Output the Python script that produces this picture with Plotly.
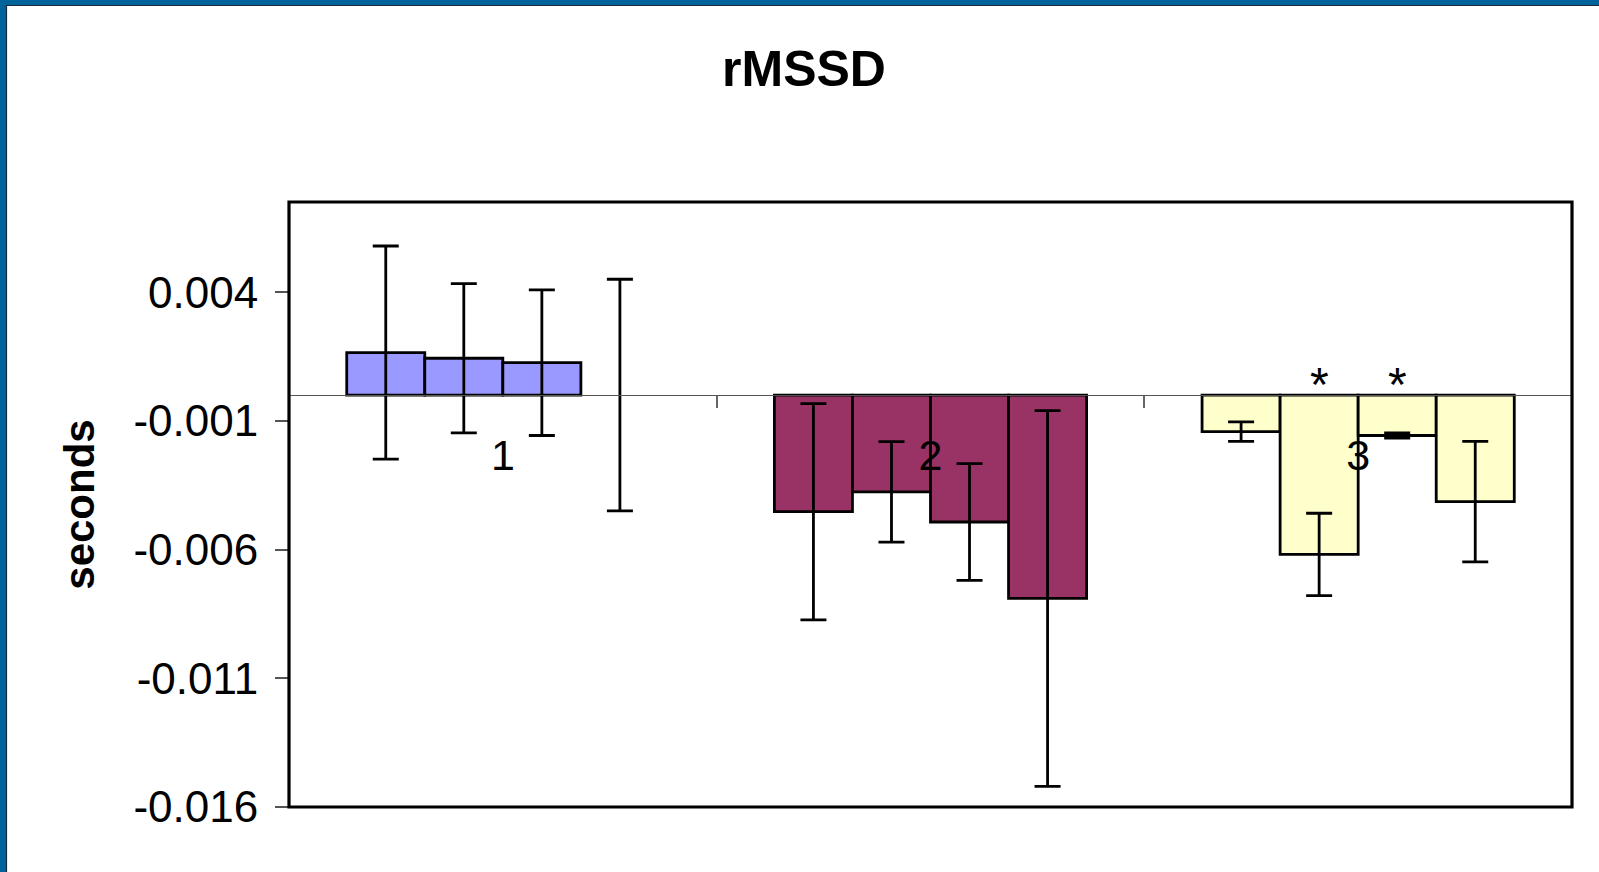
import plotly.graph_objects as go

# Category labels and y tick labels
categories = ["1", "2", "3"]
tick_values = [0.004, -0.001, -0.006, -0.011, -0.016]
tick_labels = ["0.004", "-0.001", "-0.006", "-0.011", "-0.016"]

# Mean change per series (one value per group)
series_1 = [0.00165, -0.00453, -0.00142]
series_2 = [0.00143, -0.00376, -0.00619]
series_3 = [0.00126, -0.00493, -0.00157]
series_4 = [0.0, -0.00790, -0.00414]

# Error bar half-lengths
err_1 = [0.00414, 0.00420, 0.00038]
err_2 = [0.00290, 0.00195, 0.00160]
err_3 = [0.00283, 0.00227, 0.00010]
err_4 = [0.00450, 0.00730, 0.00234]

# Significance marks for group "3"
stars_group3 = ["", "*", "*", ""]

group_colors = ["#9999FF", "#993366", "#FFFFCC"]

FONT = "Liberation Sans, Arial, sans-serif"
W, H = 1599, 872
M_L, M_R, M_T, M_B = 289, 27, 202, 65
Y_MIN, Y_MAX = -0.016, 0.0075
BARGAP = 0.27

series = [series_1, series_2, series_3, series_4]
errors = [err_1, err_2, err_3, err_4]

fig = go.Figure()
for vals, errs in zip(series, errors):
    # zero-height bars get no outline so only their error bar shows
    outline = [2.8 if v != 0 else 0 for v in vals]
    fig.add_trace(go.Bar(
        x=categories,
        y=vals,
        marker=dict(color=group_colors, line=dict(color="black", width=outline)),
        error_y=dict(type="data", array=errs, visible=True,
                     color="black", thickness=2.8, width=13),
        showlegend=False,
    ))

plot_w = W - M_L - M_R
plot_h = H - M_T - M_B
zero_frac = (0 - Y_MIN) / (Y_MAX - Y_MIN)

# Significance asterisks above bars of group "3"
n_series = len(series)
bar_w = (1 - BARGAP) / n_series
cat_px = plot_w / len(categories)
for i, s in enumerate(stars_group3):
    if s:
        offset = (-(1 - BARGAP) / 2 + bar_w * (i + 0.5)) * cat_px
        fig.add_annotation(x=2, y=0, xref="x", yref="y",
                           text=s, showarrow=False, xshift=offset,
                           yanchor="bottom", yshift=-18,
                           font=dict(family=FONT, size=48, color="black"))

# Plot-area frame
fig.add_shape(type="rect", xref="x domain", yref="y domain",
              x0=0, x1=1, y0=0, y1=1,
              line=dict(color="black", width=3.2), layer="above")

# Slide frame: blue band on the left and top edges
def px_x(p):
    return (p - M_L) / plot_w

def px_y(p):
    return (H - M_B - p) / plot_h

BLUE = "#00639A"
EDGE = "#1B2A38"
fig.add_shape(type="rect", xref="paper", yref="paper",
              x0=px_x(0), x1=px_x(6), y0=px_y(H), y1=px_y(0),
              line=dict(width=0), fillcolor=BLUE, layer="above")
fig.add_shape(type="rect", xref="paper", yref="paper",
              x0=px_x(0), x1=px_x(W), y0=px_y(5), y1=px_y(0),
              line=dict(width=0), fillcolor=BLUE, layer="above")
fig.add_shape(type="line", xref="paper", yref="paper",
              x0=px_x(6.5), x1=px_x(6.5), y0=px_y(H), y1=px_y(5),
              line=dict(color=EDGE, width=1.2), layer="above")
fig.add_shape(type="line", xref="paper", yref="paper",
              x0=px_x(6), x1=px_x(W), y0=px_y(5.5), y1=px_y(5.5),
              line=dict(color=EDGE, width=1.2), layer="above")

fig.update_layout(
    width=W, height=H,
    margin=dict(l=M_L, r=M_R, t=M_T, b=M_B),
    paper_bgcolor="white", plot_bgcolor="white",
    barmode="group", bargap=BARGAP, bargroupgap=0,
    font=dict(family=FONT, color="black"),
    title=dict(text="<b>rMSSD</b>", x=(804 - M_L) / plot_w, xref="paper",
               xanchor="center", y=1 - 68 / H, yanchor="middle",
               font=dict(family=FONT, size=50, color="black")),
    xaxis=dict(
        type="category", anchor="free", position=zero_frac,
        range=[-0.5, len(categories) - 0.5],
        showline=True, linecolor="#555555", linewidth=1,
        ticks="outside", tickson="boundaries", ticklen=12,
        tickcolor="#666666", tickwidth=2,
        ticklabelstandoff=22,
        tickfont=dict(family=FONT, size=43, color="black"),
        showgrid=False, zeroline=False,
    ),
    yaxis=dict(
        range=[Y_MIN, Y_MAX],
        tickvals=tick_values, ticktext=tick_labels,
        ticks="outside", ticklen=13, tickcolor="#555555", tickwidth=1.5,
        ticklabelstandoff=8,
        tickfont=dict(family=FONT, size=44, color="black"),
        showgrid=False, zeroline=False, showline=False,
        title=dict(text="<b>seconds</b>", standoff=25,
                   font=dict(family=FONT, size=42, color="black")),
    ),
)

fig.write_html("out.html")
